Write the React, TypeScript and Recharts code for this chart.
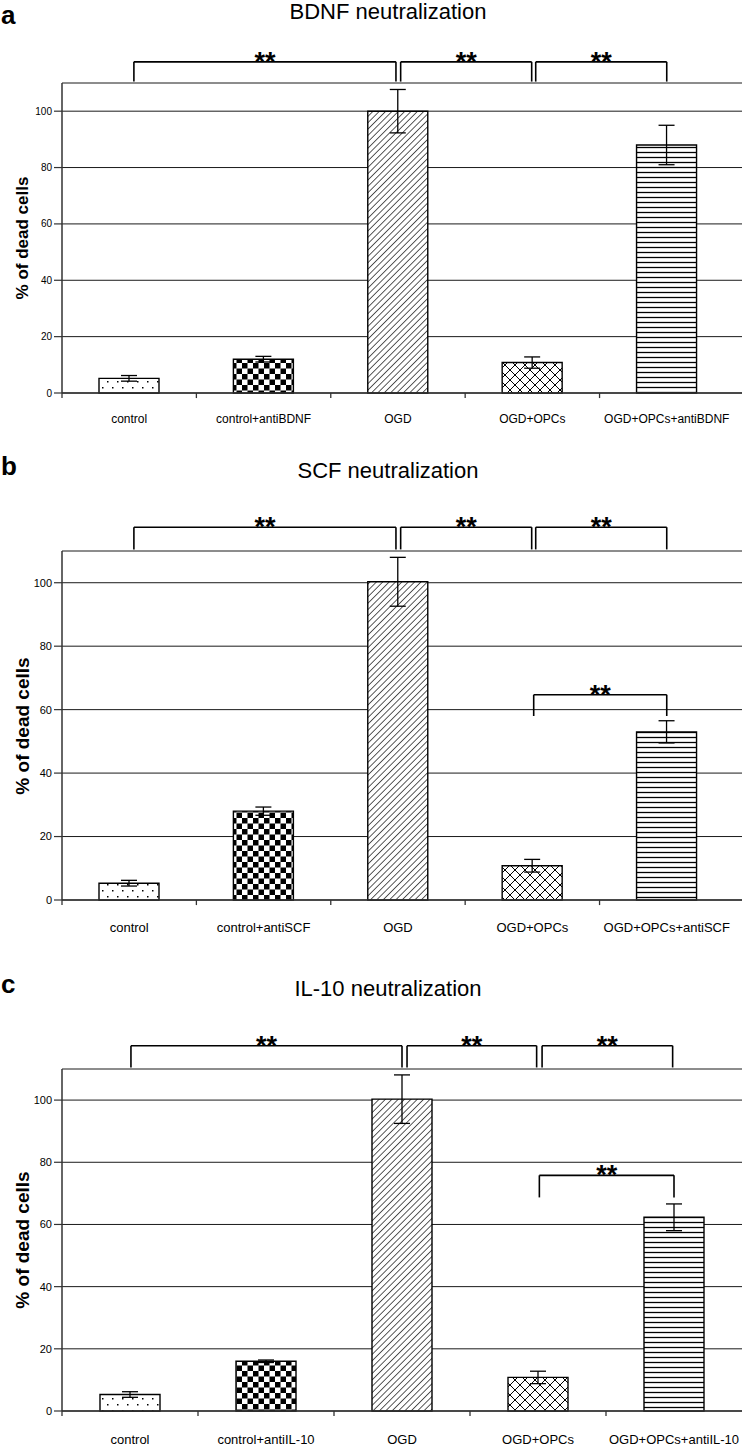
import React from 'react';
import { BarChart, Bar, Cell, XAxis, YAxis, CartesianGrid, ErrorBar, ReferenceLine } from 'recharts';

const FONT = '"Liberation Sans", Arial, sans-serif';

// category slots on a numeric x axis (centre of each slot)
const positions = [0.5, 1.5, 2.5, 3.5, 4.5];
const boundaryTicks = [0, 1, 2, 3, 4];
const yTicks = [0, 20, 40, 60, 80, 100];
const patternIds = ['pDots', 'pCheck', 'pDiag', 'pCross', 'pHLines'];

const labelsA = ['control', 'control+antiBDNF', 'OGD', 'OGD+OPCs', 'OGD+OPCs+antiBDNF'];
const valuesA = [5.2, 12, 100, 10.8, 88];
const errorsA = [1, 1, 7.7, 2, 7];

const labelsB = ['control', 'control+antiSCF', 'OGD', 'OGD+OPCs', 'OGD+OPCs+antiSCF'];
const valuesB = [5.3, 28, 100.3, 10.8, 53];
const errorsB = [0.9, 1.3, 7.7, 2, 3.5];

const labelsC = ['control', 'control+antiIL-10', 'OGD', 'OGD+OPCs', 'OGD+OPCs+antiIL-10'];
const valuesC = [5.3, 16, 100.3, 10.8, 62.3];
const errorsC = [0.9, 0.4, 7.8, 2, 4.3];

type Bracket = { from: number; to: number; top: number; bottom: number };

// significance brackets, x in category slots, y in % units
const bracketsAB: Bracket[] = [
  { from: 0.535, to: 2.485, top: 117.5, bottom: 110.5 },
  { from: 2.52, to: 3.495, top: 117.5, bottom: 110.5 },
  { from: 3.525, to: 4.5, top: 117.5, bottom: 110.5 },
];
const bracketsC: Bracket[] = [
  { from: 0.507, to: 2.5, top: 117.5, bottom: 110.5 },
  { from: 2.537, to: 3.49, top: 117.5, bottom: 110.5 },
  { from: 3.53, to: 4.49, top: 117.5, bottom: 110.5 },
];
const extraBracketB: Bracket = { from: 3.51, to: 4.5, top: 64.7, bottom: 58 };
const extraBracketC: Bracket = { from: 3.51, to: 4.5, top: 75.8, bottom: 68.7 };

const lineStyle = { stroke: '#000', strokeWidth: 1.6 };

function bracketLines(b: Bracket, key: string) {
  return [
    <ReferenceLine key={key + 'l'} segment={[{ x: b.from, y: b.bottom }, { x: b.from, y: b.top }]} ifOverflow="visible" {...lineStyle} />,
    <ReferenceLine key={key + 'r'} segment={[{ x: b.to, y: b.bottom }, { x: b.to, y: b.top }]} ifOverflow="visible" {...lineStyle} />,
    <ReferenceLine
      key={key + 'h'}
      segment={[{ x: b.from, y: b.top }, { x: b.to, y: b.top }]}
      ifOverflow="visible"
      {...lineStyle}
      label={{ value: '**', position: 'top', offset: -9, fontSize: 27, fontWeight: 'bold', fill: '#000', fontFamily: FONT }}
    />,
  ];
}

type PanelProps = {
  letter: string;
  title: string;
  labels: string[];
  values: number[];
  errors: number[];
  brackets: Bracket[];
  extra?: Bracket;
  xMax: number;
  top: number;
  height: number;
  marginTop: number;
  marginBottom: number;
  tickFont: number;
  yTickFont: number;
  yLabelFont: number;
  tickMargin: number;
  tickDrop: number;
  letterTop: number;
  titleTop: number;
};

function Panel(p: PanelProps) {
  const data = p.labels.map((name, i) => ({ name, pos: positions[i], value: p.values[i], err: p.errors[i] }));
  const plotTop = p.top + p.marginTop;
  const plotBottom = p.top + p.height - p.marginBottom - 32;
  return (
    <>
      <div style={{ position: 'absolute', left: 1, top: p.letterTop, fontFamily: FONT, fontWeight: 'bold', fontSize: 26, lineHeight: 1 }}>
        {p.letter}
      </div>
      <div style={{ position: 'absolute', left: 188, width: 400, textAlign: 'center', top: p.titleTop, fontFamily: FONT, fontSize: 22, lineHeight: 1 }}>
        {p.title}
      </div>
      <div
        style={{
          position: 'absolute',
          left: 23,
          top: (plotTop + plotBottom) / 2,
          transform: 'translate(-50%, -50%) rotate(-90deg)',
          whiteSpace: 'nowrap',
          fontFamily: FONT,
          fontWeight: 'bold',
          fontSize: p.yLabelFont,
        }}
      >
        % of dead cells
      </div>
      <div style={{ position: 'absolute', left: 0, top: p.top }}>
        <BarChart width={742} height={p.height} data={data} margin={{ top: p.marginTop, right: 0, left: 0, bottom: p.marginBottom }}>
          <CartesianGrid vertical={false} stroke="#1a1a1a" strokeWidth={1} />
          <XAxis
            type="number"
            dataKey="pos"
            domain={[0, p.xMax]}
            allowDataOverflow
            ticks={positions}
            interval={0}
            tickFormatter={(v: number) => p.labels[Math.floor(v)]}
            tickLine={false}
            tickMargin={p.tickMargin}
            height={32}
            axisLine={{ stroke: '#333', strokeWidth: 1.5 }}
            tick={{ fontSize: p.tickFont, fill: '#000', fontFamily: FONT }}
          />
          <YAxis
            domain={[0, 110]}
            ticks={yTicks}
            width={62}
            tickSize={8}
            tickMargin={2}
            axisLine={{ stroke: '#333', strokeWidth: 1.5 }}
            tickLine={{ stroke: '#333', strokeWidth: 1.2 }}
            tick={{ fontSize: p.yTickFont, fill: '#000', fontFamily: FONT }}
          />
          <Bar dataKey="value" barSize={60} stroke="#000" strokeWidth={1.4} isAnimationActive={false}>
            {data.map((d, i) => (
              <Cell key={d.name} fill={`url(#${patternIds[i]})`} />
            ))}
            <ErrorBar dataKey="err" width={8} stroke="#000" strokeWidth={1.3} isAnimationActive={false} />
          </Bar>
          {boundaryTicks.map((t) => (
            <ReferenceLine
              key={'t' + t}
              segment={[{ x: t, y: 0 }, { x: t, y: -p.tickDrop }]}
              ifOverflow="visible"
              stroke="#333"
              strokeWidth={1.3}
            />
          ))}
          {p.brackets.map((b, i) => bracketLines(b, 'b' + i))}
          {p.extra ? bracketLines(p.extra, 'x') : null}
        </BarChart>
      </div>
    </>
  );
}

export default function App() {
  return (
    <div style={{ position: 'absolute', left: 0, top: 0, width: 742, height: 1446, background: '#fff' }}>
      <svg width={0} height={0} style={{ position: 'absolute' }}>
        <defs>
          <pattern id="pDots" width={10} height={12} patternUnits="userSpaceOnUse">
            <rect width={10} height={12} fill="#fff" />
            <rect x={2} y={3} width={1.5} height={1.5} fill="#000" />
            <rect x={7} y={9} width={1.5} height={1.5} fill="#000" />
          </pattern>
          <pattern id="pCheck" width={11} height={11} patternUnits="userSpaceOnUse">
            <rect width={11} height={11} fill="#fff" />
            <rect width={5.5} height={5.5} fill="#000" />
            <rect x={5.5} y={5.5} width={5.5} height={5.5} fill="#000" />
          </pattern>
          <pattern id="pDiag" width={4.5} height={4.5} patternUnits="userSpaceOnUse" patternTransform="rotate(45)">
            <rect width={4.5} height={4.5} fill="#fff" />
            <line x1={0} y1={0} x2={0} y2={4.5} stroke="#000" strokeWidth={1.3} />
          </pattern>
          <pattern id="pCross" width={10} height={10} patternUnits="userSpaceOnUse">
            <rect width={10} height={10} fill="#fff" />
            <line x1={0} y1={0} x2={10} y2={10} stroke="#000" strokeWidth={1} />
            <line x1={10} y1={0} x2={0} y2={10} stroke="#000" strokeWidth={1} />
          </pattern>
          <pattern id="pHLines" width={6} height={5} patternUnits="userSpaceOnUse">
            <rect width={6} height={5} fill="#fff" />
            <line x1={0} y1={2.5} x2={6} y2={2.5} stroke="#000" strokeWidth={1.3} />
          </pattern>
        </defs>
      </svg>
      <Panel
        letter="a"
        title="BDNF neutralization"
        labels={labelsA}
        values={valuesA}
        errors={errorsA}
        brackets={bracketsAB}
        xMax={5.06}
        top={0}
        height={450}
        marginTop={83}
        marginBottom={25}
        tickFont={12}
        yTickFont={10}
        yLabelFont={17}
        tickMargin={15}
        tickDrop={1.8}
        letterTop={2}
        titleTop={1}
      />
      <Panel
        letter="b"
        title="SCF neutralization"
        labels={labelsB}
        values={valuesB}
        errors={errorsB}
        brackets={bracketsAB}
        extra={extraBracketB}
        xMax={5.06}
        top={455}
        height={490}
        marginTop={96}
        marginBottom={13}
        tickFont={13}
        yTickFont={11}
        yLabelFont={19}
        tickMargin={17}
        tickDrop={1.6}
        letterTop={453}
        titleTop={460}
      />
      <Panel
        letter="c"
        title="IL-10 neutralization"
        labels={labelsC}
        values={valuesC}
        errors={errorsC}
        brackets={bracketsC}
        extra={extraBracketC}
        xMax={5}
        top={975}
        height={471}
        marginTop={94}
        marginBottom={3}
        tickFont={13}
        yTickFont={11}
        yLabelFont={19}
        tickMargin={18}
        tickDrop={1.6}
        letterTop={971}
        titleTop={978}
      />
    </div>
  );
}
